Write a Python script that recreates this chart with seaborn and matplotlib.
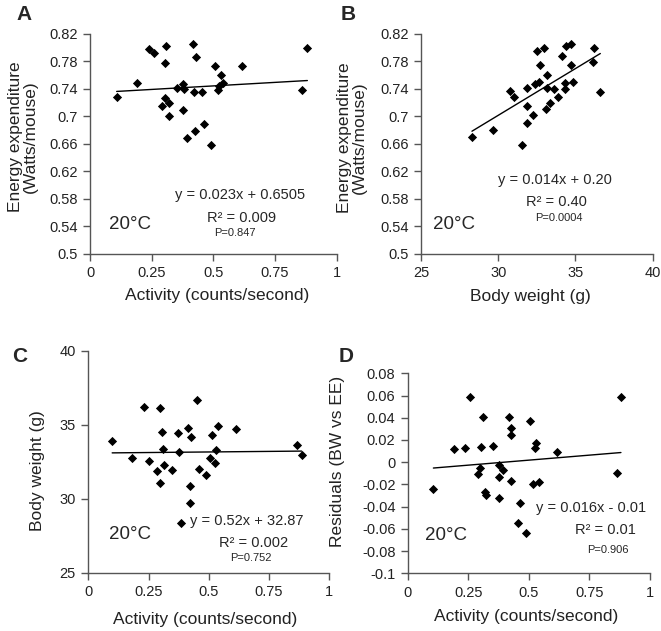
import numpy as np
import pandas as pd
import seaborn as sns
import matplotlib.pyplot as plt

# Panel A: activity vs energy expenditure
act_a = [0.108, 0.192, 0.238, 0.261, 0.308, 0.303, 0.305, 0.292, 0.319, 0.322,
         0.354, 0.376, 0.381, 0.378, 0.416, 0.430, 0.423, 0.455, 0.392, 0.427,
         0.461, 0.491, 0.507, 0.531, 0.541, 0.524, 0.518, 0.615, 0.881, 0.861]
ee_a = [0.728, 0.749, 0.798, 0.793, 0.802, 0.778, 0.727, 0.715, 0.720, 0.701,
        0.741, 0.747, 0.740, 0.710, 0.805, 0.786, 0.735, 0.735, 0.669, 0.679,
        0.689, 0.658, 0.774, 0.760, 0.749, 0.745, 0.739, 0.774, 0.799, 0.739]

# Panel B: body weight vs energy expenditure
bw_b = [28.30, 29.68, 30.78, 31.02, 31.56, 31.88, 31.85, 31.88, 32.27, 32.49,
        32.99, 32.73, 32.40, 32.66, 33.18, 33.14, 33.08, 33.34, 33.59, 33.85,
        34.11, 34.39, 34.70, 34.73, 34.31, 34.35, 34.86, 36.19, 36.14, 36.61]
ee_b = [0.670, 0.680, 0.737, 0.728, 0.659, 0.742, 0.715, 0.690, 0.702, 0.795,
        0.800, 0.775, 0.747, 0.750, 0.761, 0.742, 0.711, 0.720, 0.740, 0.729,
        0.788, 0.802, 0.805, 0.775, 0.740, 0.748, 0.750, 0.799, 0.779, 0.736]

# Panel C: activity vs body weight
act_c = [0.099, 0.183, 0.232, 0.298, 0.253, 0.304, 0.311, 0.315, 0.285, 0.298,
         0.348, 0.371, 0.375, 0.413, 0.425, 0.452, 0.420, 0.423, 0.460, 0.489,
         0.503, 0.524, 0.528, 0.515, 0.538, 0.613, 0.868, 0.885, 0.386]
bw_c = [33.90, 32.73, 36.22, 36.15, 32.55, 34.49, 33.38, 32.30, 31.87, 31.08,
        31.94, 34.42, 33.18, 34.75, 34.14, 36.65, 30.86, 29.71, 31.99, 31.60,
        32.77, 32.43, 33.27, 34.30, 34.89, 34.73, 33.61, 32.97, 28.34]

# Panel D: activity vs residuals
act_d = [0.105, 0.189, 0.236, 0.256, 0.302, 0.310, 0.298, 0.291, 0.317, 0.321,
         0.352, 0.375, 0.391, 0.375, 0.377, 0.416, 0.426, 0.424, 0.427, 0.462,
         0.456, 0.505, 0.530, 0.525, 0.518, 0.540, 0.614, 0.880, 0.865, 0.488]
res_d = [-0.024, 0.0119, 0.013, 0.059, 0.0139, 0.0407, -0.0055, -0.0106, -0.0268, -0.0298,
         0.0146, -0.0022, -0.0073, -0.0133, -0.0325, 0.0407, 0.0305, 0.0245, -0.0167, -0.0367,
         -0.055, 0.0368, 0.017, 0.0128, -0.0197, -0.0175, 0.0092, 0.059, -0.010, -0.064]

act_ticks = [0, 0.25, 0.5, 0.75, 1]
ee_ticks = np.round(np.arange(0.5, 0.8201, 0.04), 2)
bw_ticks = [25, 30, 35, 40]
res_ticks = np.round(np.arange(-0.1, 0.0801, 0.02), 2)

sns.set_style("ticks")
plt.rcParams['font.family'] = ['Liberation Sans', 'DejaVu Sans']
plt.rcParams['axes.unicode_minus'] = False

fig = plt.figure(figsize=(6.61, 6.31), dpi=100)

panels = [
    # rect, x, y, xticks, yticks, xlabel, ylabel, letter, text positions
    dict(rect=[0.1362, 0.5975, 0.3732, 0.3487], x=act_a, y=ee_a, xt=act_ticks, yt=ee_ticks,
         xl='Activity (counts/second)', yl='Energy expenditure\n(Watts/mouse)',
         xlc=(0.514, -0.19), ylc=(-0.272, 0.532),
         eq='y = 0.023x + 0.6505', r2='R² = 0.009', p='P=0.847',
         eqp=(0.61, 0.268), r2p=(0.615, 0.162), pp=(0.588, 0.094), tp=(0.077, 0.132),
         letter='A', lp=(24, 15)),
    dict(rect=[0.6369, 0.5975, 0.3505, 0.3487], x=bw_b, y=ee_b, xt=bw_ticks, yt=ee_ticks,
         xl='Body weight (g)', yl='Energy expenditure\n(Watts/mouse)',
         xlc=(0.47, -0.194), ylc=(-0.298, 0.53),
         eq='y = 0.014x + 0.20', r2='R² = 0.40', p='P=0.0004',
         eqp=(0.58, 0.336), r2p=(0.586, 0.238), pp=(0.596, 0.162), tp=(0.053, 0.136),
         letter='B', lp=(348, 15)),
    dict(rect=[0.1336, 0.0924, 0.3646, 0.3518], x=act_c, y=bw_c, xt=act_ticks, yt=bw_ticks,
         xl='Activity (counts/second)', yl='Body weight (g)',
         xlc=(0.484, -0.213), ylc=(-0.211, 0.459),
         eq='y = 0.52x + 32.87', r2='R² = 0.002', p='P=0.752',
         eqp=(0.657, 0.233), r2p=(0.685, 0.135), pp=(0.676, 0.065), tp=(0.086, 0.17),
         letter='C', lp=(20, 357)),
    dict(rect=[0.6172, 0.0914, 0.3661, 0.3170], x=act_d, y=res_d, xt=act_ticks, yt=res_ticks,
         xl='Activity (counts/second)', yl='Residuals (BW vs EE)',
         xlc=(0.49, -0.217), ylc=(-0.291, 0.558),
         eq='y = 0.016x - 0.01', r2='R² = 0.01', p='P=0.906',
         eqp=(0.755, 0.325), r2p=(0.814, 0.217), pp=(0.826, 0.117), tp=(0.07, 0.19),
         letter='D', lp=(346, 357)),
]

for pn in panels:
    ax = fig.add_axes(pn['rect'])
    df = pd.DataFrame({'x': pn['x'], 'y': pn['y']})
    sns.regplot(data=df, x='x', y='y', ax=ax, ci=None, marker='D', color='black',
                scatter_kws={'s': 22, 'linewidths': 0, 'alpha': 1},
                line_kws={'lw': 1.0, 'color': 'black'})

    ax.set_xlim(pn['xt'][0], pn['xt'][-1])
    ax.set_ylim(pn['yt'][0], pn['yt'][-1])
    ax.set_xticks(pn['xt'])
    ax.set_yticks(pn['yt'])
    ax.set_xticklabels(['%g' % v for v in pn['xt']])
    ax.set_yticklabels(['%g' % v for v in pn['yt']])

    for s in ['top', 'right']:
        ax.spines[s].set_visible(False)
    for s in ['left', 'bottom']:
        ax.spines[s].set_color('#555555')
        ax.spines[s].set_linewidth(1.0)
    ax.tick_params(direction='out', length=5, width=1, color='#555555',
                   labelsize=10.5, labelcolor='#222222', pad=4)

    ax.set_xlabel(pn['xl'], fontsize=12.5, color='#222222', va='center')
    ax.xaxis.set_label_coords(*pn['xlc'])
    ax.set_ylabel(pn['yl'], fontsize=12.5, color='#222222', va='center', linespacing=1.05)
    ax.yaxis.set_label_coords(*pn['ylc'])

    # regression annotations
    ax.text(*pn['eqp'], pn['eq'], transform=ax.transAxes, ha='center', va='center', fontsize=10.5)
    ax.text(*pn['r2p'], pn['r2'], transform=ax.transAxes, ha='center', va='center', fontsize=10.5)
    ax.text(*pn['pp'], pn['p'], transform=ax.transAxes, ha='center', va='center', fontsize=8)
    ax.text(*pn['tp'], '20°C', transform=ax.transAxes, ha='left', va='center', fontsize=13.5)

    # panel letter, placed in pixel coords
    fig.text(pn['lp'][0] / 661, 1 - pn['lp'][1] / 631, pn['letter'],
             ha='center', va='center', fontsize=15, fontweight='bold')

fig.savefig('out.png', dpi=100)
